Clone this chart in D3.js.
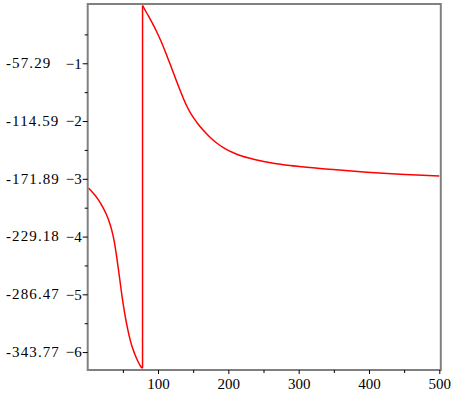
<!DOCTYPE html>
<html>
<head>
<meta charset="utf-8">
<script src="https://cdn.jsdelivr.net/npm/d3@7"></script>
<style>
  body { margin: 0; background: #fff; }
  text { font-family: "Liberation Serif", "Times New Roman", serif; }
</style>
</head>
<body>
<div id="chart"></div>
<script>
// values
const radTicks = [-1, -2, -3, -4, -5, -6];
const radMinor = [-0.5, -1.5, -2.5, -3.5, -4.5, -5.5];
const degLabels = ["-57.29", "-114.59", "-171.89", "-229.18", "-286.47", "-343.77"];
const xTicks = [100, 200, 300, 400, 500];
const xMinor = [50, 150, 250, 350, 450];

// branch before the jump
const leftX = [1, 8, 15, 21, 26, 30, 34, 38, 42, 45.5, 49, 52.5, 56.5, 61.5, 66.5, 71, 75, 78];
const leftY = [-3.16, -3.25, -3.36, -3.48, -3.6, -3.72, -3.88, -4.1, -4.42, -4.73, -5.05, -5.32, -5.58, -5.84, -6.02, -6.15, -6.24, -6.28];
// branch after the jump
const rightX = [78, 83.9, 91, 98.1, 105.2, 112.3, 119.4, 126.5, 133.6, 140.7, 147.8, 154.9, 164.4, 173.9, 183.4, 192.9, 207.1, 221.3, 240.3, 264, 287.7, 311.4, 330.3, 349, 397, 444, 500];
const rightY = [0, -0.13, -0.285, -0.455, -0.645, -0.86, -1.085, -1.315, -1.535, -1.735, -1.895, -2.02, -2.16, -2.28, -2.38, -2.46, -2.55, -2.615, -2.673, -2.73, -2.77, -2.8, -2.82, -2.84, -2.885, -2.92, -2.95];

const W = 455, H = 394;
const svg = d3.select("#chart").append("svg")
  .attr("width", W).attr("height", H);

const x = d3.scaleLinear().domain([0, 500]).range([87.7, 439.3]);
const y = d3.scaleLinear().domain([-6.31, 0.026]).range([370, 4]);

const line = d3.line()
  .x(d => x(d[0]))
  .y(d => y(d[1]))
  .curve(d3.curveMonotoneX);

const left = leftX.map((v, i) => [v, leftY[i]]);
const right = rightX.map((v, i) => [v, rightY[i]]);

svg.append("path").datum(left)
  .attr("d", line)
  .attr("fill", "none").attr("stroke", "#ff0000").attr("stroke-width", 1.5);
// vertical jump
svg.append("path").datum([left[left.length - 1], right[0]])
  .attr("d", d3.line().x(d => x(d[0])).y(d => y(d[1])))
  .attr("fill", "none").attr("stroke", "#ff0000").attr("stroke-width", 1.5);
svg.append("path").datum(right)
  .attr("d", line)
  .attr("fill", "none").attr("stroke", "#ff0000").attr("stroke-width", 1.5);

// frame
svg.append("rect")
  .attr("x", x(0)).attr("y", y.range()[1])
  .attr("width", x(500) + 1.5 - x(0))
  .attr("height", y.range()[0] - y.range()[1])
  .attr("fill", "none").attr("stroke", "#808080").attr("stroke-width", 2);

// x axis
svg.append("g").attr("transform", "translate(0," + y.range()[0] + ")")
  .call(d3.axisBottom(x).tickValues(xTicks).tickSize(4).tickPadding(4).tickSizeOuter(0));
svg.append("g").attr("transform", "translate(0," + y.range()[0] + ")")
  .call(d3.axisBottom(x).tickValues(xMinor).tickSize(3).tickFormat("").tickSizeOuter(0));

// y axis
svg.append("g").attr("transform", "translate(" + x(0) + ",0)")
  .call(d3.axisLeft(y).tickValues(radTicks).tickFormat(d3.format("d")).tickSize(5).tickPadding(1).tickSizeOuter(0));
svg.append("g").attr("transform", "translate(" + x(0) + ",0)")
  .call(d3.axisLeft(y).tickValues(radMinor).tickSize(3).tickFormat("").tickSizeOuter(0));

svg.selectAll(".domain").remove();
svg.selectAll(".tick line").attr("stroke", "#000").attr("stroke-width", 1);
svg.selectAll(".tick text")
  .attr("fill", "#000")
  .style("font-family", '"Liberation Serif", "Times New Roman", serif')
  .style("font-size", "15px");

// degree labels
svg.append("g").selectAll("text")
  .data(degLabels)
  .join("text")
  .attr("x", 6)
  .attr("y", (d, i) => y(radTicks[i]))
  .attr("dy", "0.32em")
  .style("font-size", "15px")
  .style("letter-spacing", "1.1px")
  .attr("fill", "#000")
  .text(d => d);
</script>
</body>
</html>
